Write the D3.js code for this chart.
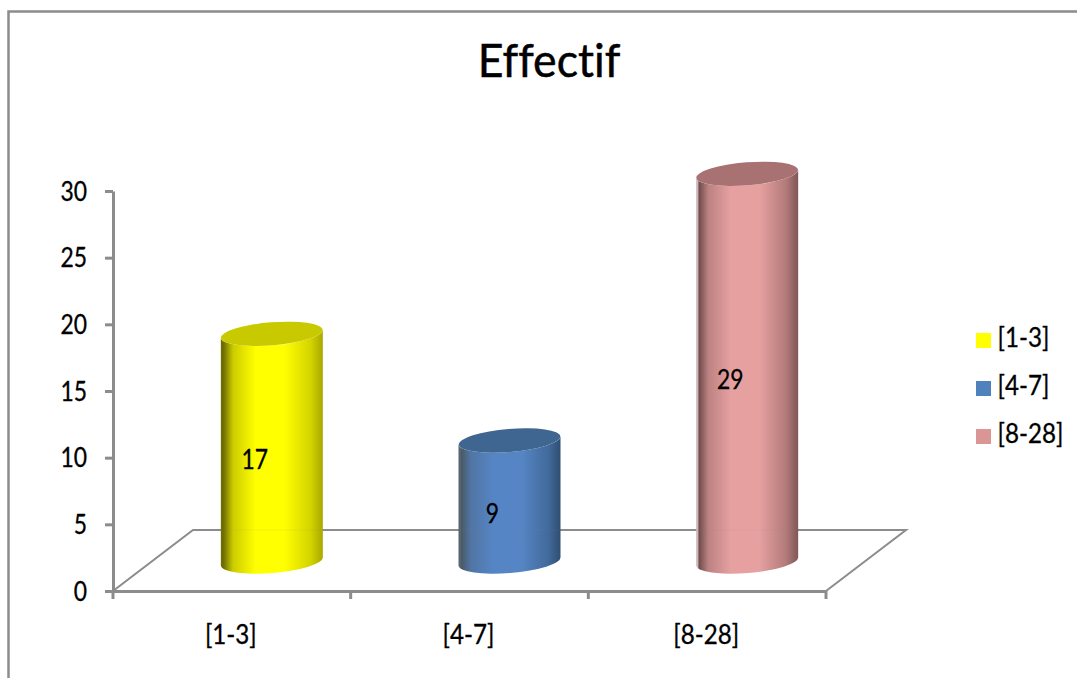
<!DOCTYPE html>
<html>
<head>
<meta charset="utf-8">
<style>
  html, body { margin: 0; padding: 0; background: #fff; overflow: hidden; }
  svg { display: block; }
  text { font-family: Lato, "Noto Sans", sans-serif; fill: #000; stroke: #000; stroke-width: 0.3px; font-variant-ligatures: none; }
</style>
</head>
<body>
<svg id="chart" width="1077" height="678"></svg>
<script src="https://cdn.jsdelivr.net/npm/d3@7/dist/d3.min.js"></script>
<script>
// Class counts
const categories = ["[1-3]", "[4-7]", "[8-28]"];
const values = [17, 9, 29];
const yTicks = [0, 5, 10, 15, 20, 25, 30];
const chartTitle = "Effectif";

// Cylinder shading per category
const baseColors = ["#ffff00", "#5585c4", "#e6a0a0"];
const darkColors = ["#6e6e00", "#4a5866", "#6e4a4a"];
const edgeColors = ["#a8a800", "#2f4e72", "#7f5656"];
const rimColors = ["#6e6e00", "#5a646e", "#cdb9b9"];
const topColors = ["#c9c900", "#3f6690", "#a87272"];
const swatchColors = ["#ffff00", "#4f81bd", "#d99694"];

const svg = d3.select("#chart");
const axisColor = "#8c8c8c";

// Plot geometry: front floor edge and the receding offset of the 3D floor
const plot = { left: 113, right: 826, top: 191, bottom: 591 };
const depth = { x: 80, y: -61 };

const x = d3.scaleBand().domain(categories).range([plot.left, plot.right]);
const y = d3.scaleLinear().domain([0, 30]).range([plot.bottom, plot.top]);

// Narrows a text selection horizontally while keeping its height
function condense(sel, k) {
  sel.each(function () {
    this.setAttribute("lengthAdjust", "spacingAndGlyphs");
    this.setAttribute("textLength", this.getComputedTextLength() * k);
  });
  return sel;
}

// Outer chart frame, open on the right and bottom
svg.append("path")
  .attr("d", "M8.5,678V11.5H1077")
  .attr("fill", "none").attr("stroke", axisColor).attr("stroke-width", 2.5);

svg.append("text")
  .attr("x", 549).attr("y", 77)
  .attr("text-anchor", "middle")
  .attr("font-size", 47)
  .style("stroke-width", "0.5px")
  .text(chartTitle)
  .call(condense, 0.95);

// Floor: receding side edges and the back edge
const floor = svg.append("g").attr("fill", "none").attr("stroke", axisColor);
floor.append("path")
  .attr("stroke-width", 2)
  .attr("d", `M${plot.left},${plot.bottom}L${plot.left + depth.x},${plot.bottom + depth.y}H${plot.right + depth.x}L${plot.right},${plot.bottom}`);

// Axes
const yAxis = d3.axisLeft(y).tickValues(yTicks).tickSize(8).tickPadding(18).tickSizeOuter(0);
const gy = svg.append("g").attr("transform", `translate(${plot.left},1)`).call(yAxis);
gy.selectAll("text").attr("font-size", 26).attr("font-family", "Lato").call(condense, 0.88);
gy.selectAll("line").attr("transform", "translate(0,-1)");
gy.select("path").attr("transform", "translate(0,-1)");
gy.selectAll("line,path").attr("stroke", axisColor).attr("stroke-width", 3);

const xAxis = d3.axisBottom(x).tickSize(0).tickPadding(0);
const gx = svg.append("g").attr("transform", `translate(0,${plot.bottom})`).call(xAxis);
gx.selectAll("line").remove();
gx.select("path").attr("stroke", axisColor).attr("stroke-width", 3);
gx.selectAll("text").attr("font-size", 26).attr("font-family", "Lato").attr("dy", 0).attr("y", 53).attr("x", -1).call(condense, 0.93);

const edges = categories.map(c => x(c)).concat(plot.right);
gx.selectAll("line.edge").data(edges).join("line")
  .attr("class", "edge")
  .attr("x1", d => d).attr("x2", d => d)
  .attr("y1", 0).attr("y2", 8)
  .attr("stroke", axisColor).attr("stroke-width", 3);

// Horizontal shading across each cylinder
const defs = svg.append("defs");
categories.forEach((c, i) => {
  const g = defs.append("linearGradient").attr("id", `shade${i}`)
    .attr("x1", "0").attr("x2", "1").attr("y1", "0").attr("y2", "0");
  [[0, rimColors[i]], [0.02, rimColors[i]], [0.025, darkColors[i]],
   [0.12, d3.interpolateRgb(darkColors[i], baseColors[i])(0.65)],
   [0.34, baseColors[i]], [0.62, baseColors[i]],
   [0.88, d3.interpolateRgb(edgeColors[i], baseColors[i])(0.5)], [1, edgeColors[i]]]
    .forEach(([o, col]) => g.append("stop").attr("offset", o).attr("stop-color", col));
});

// Cylinder silhouette: side wall between the tilted base and top ellipses
const tiltDeg = -4.6;
const barRx = 51, barRy = 11.5;
const rise = barRx * Math.sin(tiltDeg * Math.PI / 180);

const bars = svg.append("g").selectAll("g").data(categories).join("g");
bars.each(function (c, i) {
  const g = d3.select(this);
  const cx = x(c) + x.bandwidth() / 2 + depth.x / 2;
  const yBase = y(0) + depth.y / 2 + 1;
  const yTop = y(values[i]) + depth.y / 2;
  g.append("path")
    .attr("fill", `url(#shade${i})`)
    .attr("d", `M${cx - barRx},${yTop - rise}` +
      `L${cx - barRx},${yBase - rise}` +
      `A${barRx},${barRy} ${tiltDeg} 0 0 ${cx + barRx},${yBase + rise}` +
      `L${cx + barRx},${yTop + rise}` +
      `A${barRx},${barRy} ${tiltDeg} 0 1 ${cx - barRx},${yTop - rise}Z`);
  g.append("ellipse")
    .attr("cx", cx).attr("cy", yTop)
    .attr("rx", barRx).attr("ry", barRy)
    .attr("transform", `rotate(${tiltDeg} ${cx} ${yTop})`)
    .attr("fill", topColors[i]);
  // Back floor edge showing faintly through the cylinder
  g.append("line")
    .attr("x1", cx - barRx).attr("x2", cx + barRx)
    .attr("y1", plot.bottom + depth.y).attr("y2", plot.bottom + depth.y)
    .attr("stroke", axisColor).attr("stroke-width", 2).attr("stroke-opacity", 0.05);
  g.append("text")
    .attr("x", cx - 17).attr("y", y(values[i] / 2) + depth.y / 2 + 22)
    .attr("text-anchor", "middle")
    .attr("font-size", 26)
    .text(values[i])
    .call(condense, 0.88);
});

// Legend
const legend = svg.append("g").selectAll("g").data(categories).join("g")
  .attr("transform", (d, i) => `translate(976,${333 + i * 48})`);
legend.append("rect").attr("width", 15).attr("height", 15)
  .attr("fill", (d, i) => swatchColors[i]);
legend.append("text").attr("x", 21.5).attr("y", 14)
  .attr("font-size", 26).text(d => d).call(condense, 0.93);
</script>
</body>
</html>
